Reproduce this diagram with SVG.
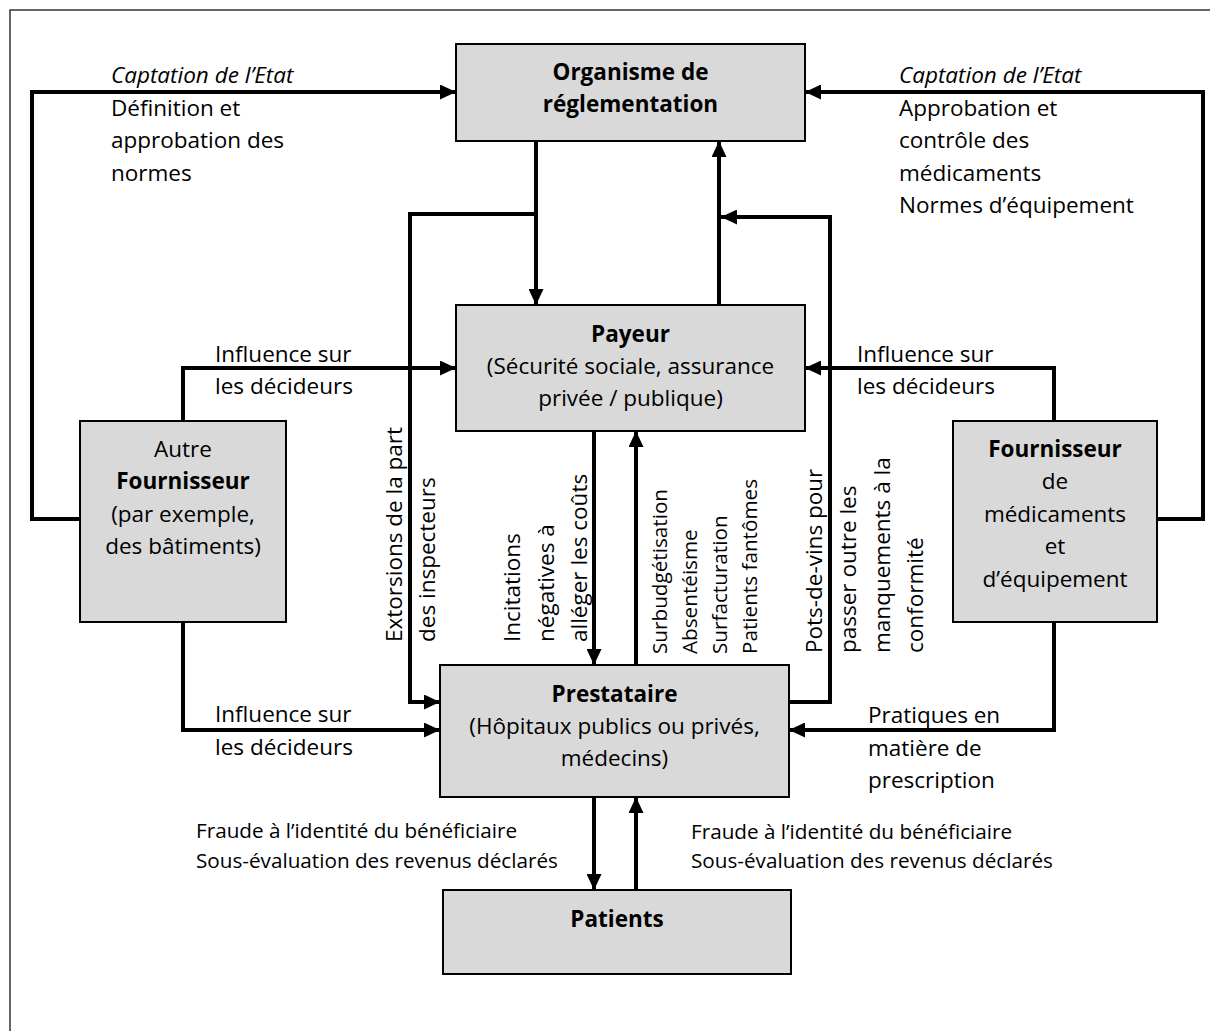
<svg xmlns="http://www.w3.org/2000/svg" width="1210" height="1031" viewBox="0 0 1210 1031">
<style>
.frame{fill:none;stroke:#333;stroke-width:1.5}
.box{fill:#d9d9d9;stroke:#000;stroke-width:2}
.c{fill:none;stroke:#000;stroke-width:4;stroke-linejoin:miter}
.t{font-family:"Open Sans","Noto Sans",sans-serif;font-size:22.5px;fill:#000}
.s{font-size:20.7px}
.b{font-weight:bold}
.m{text-anchor:middle}
.i{font-style:italic}
</style>
<defs>
<marker id="ah" markerUnits="userSpaceOnUse" markerWidth="16" markerHeight="15" refX="16" refY="7.5" orient="auto">
<path d="M0,0 L16,7.5 L0,15 z" fill="#000"/>
</marker>
</defs>
<rect width="1210" height="1031" fill="#fff"/>
<path class="frame" d="M10,1031 V10 H1210"/>

<g id="connectors">
<path class="c" d="M80,519 H32 V92 H456" marker-end="url(#ah)"/>
<path class="c" d="M1157,519 H1203 V92 H805" marker-end="url(#ah)"/>
<path class="c" d="M536,141 V305" marker-end="url(#ah)"/>
<path class="c" d="M536,214 H410 V702 H440" marker-end="url(#ah)"/>
<path class="c" d="M719,305 V141" marker-end="url(#ah)"/>
<path class="c" d="M789,702 H830 V217 H721" marker-end="url(#ah)"/>
<path class="c" d="M183,421 V368 H456" marker-end="url(#ah)"/>
<path class="c" d="M1054,421 V368 H805" marker-end="url(#ah)"/>
<path class="c" d="M183,622 V730 H440" marker-end="url(#ah)"/>
<path class="c" d="M1054,622 V730 H789" marker-end="url(#ah)"/>
<path class="c" d="M594,431 V665" marker-end="url(#ah)"/>
<path class="c" d="M636,665 V431" marker-end="url(#ah)"/>
<path class="c" d="M594,797 V890" marker-end="url(#ah)"/>
<path class="c" d="M636,890 V797" marker-end="url(#ah)"/>
</g>

<g id="regulateur">
<rect class="box" x="456" y="44" width="349" height="97"/>
<text class="t b m" x="630.5" y="80">Organisme de</text>
<text class="t b m" x="630.5" y="112">réglementation</text>
</g>
<g id="payeur">
<rect class="box" x="456" y="305" width="349" height="126"/>
<text class="t b m" x="630.5" y="342">Payeur</text>
<text class="t m" x="630.5" y="374">(Sécurité sociale, assurance</text>
<text class="t m" x="630.5" y="406">privée / publique)</text>
</g>
<g id="prestataire">
<rect class="box" x="440" y="665" width="349" height="132"/>
<text class="t b m" x="614.5" y="702">Prestataire</text>
<text class="t m" x="614.5" y="734">(Hôpitaux publics ou privés,</text>
<text class="t m" x="614.5" y="766">médecins)</text>
</g>
<g id="patients">
<rect class="box" x="443" y="890" width="348" height="84"/>
<text class="t b m" x="617" y="927">Patients</text>
</g>
<g id="autre-fournisseur">
<rect class="box" x="80" y="421" width="206" height="201"/>
<text class="t m" x="183" y="457">Autre</text>
<text class="t b m" x="183" y="489">Fournisseur</text>
<text class="t m" x="183" y="522">(par exemple,</text>
<text class="t m" x="183" y="554">des bâtiments)</text>
</g>
<g id="fournisseur-medicaments">
<rect class="box" x="953" y="421" width="204" height="201"/>
<text class="t b m" x="1055" y="457">Fournisseur</text>
<text class="t m" x="1055" y="489">de</text>
<text class="t m" x="1055" y="522">médicaments</text>
<text class="t m" x="1055" y="554">et</text>
<text class="t m" x="1055" y="587">d’équipement</text>
</g>

<g id="labels">
<text class="t i" x="111" y="83">Captation de l’Etat</text>
<text class="t" x="111" y="116">Définition et</text>
<text class="t" x="111" y="148">approbation des</text>
<text class="t" x="111" y="181">normes</text>

<text class="t i" x="899" y="83">Captation de l’Etat</text>
<text class="t" x="899" y="116">Approbation et</text>
<text class="t" x="899" y="148">contrôle des</text>
<text class="t" x="899" y="181">médicaments</text>
<text class="t" x="899" y="213">Normes d’équipement</text>

<text class="t" x="215" y="362">Influence sur</text>
<text class="t" x="215" y="394">les décideurs</text>
<text class="t" x="857" y="362">Influence sur</text>
<text class="t" x="857" y="394">les décideurs</text>

<text class="t" x="215" y="722">Influence sur</text>
<text class="t" x="215" y="755">les décideurs</text>

<text class="t" x="868" y="723">Pratiques en</text>
<text class="t" x="868" y="756">matière de</text>
<text class="t" x="868" y="788">prescription</text>

<text class="t s" x="196" y="838">Fraude à l’identité du bénéficiaire</text>
<text class="t s" x="196" y="868">Sous-évaluation des revenus déclarés</text>
<text class="t s" x="691" y="839">Fraude à l’identité du bénéficiaire</text>
<text class="t s" x="691" y="868">Sous-évaluation des revenus déclarés</text>

<text class="t" transform="translate(402,642) rotate(-90)"><tspan x="0" y="0">Extorsions de la part</tspan><tspan x="0" y="33">des inspecteurs</tspan></text>
<text class="t" transform="translate(520,642) rotate(-90)"><tspan x="0" y="0">Incitations</tspan><tspan x="0" y="33.5">négatives à</tspan><tspan x="0" y="67">alléger les coûts</tspan></text>
<text class="t s" transform="translate(667,654) rotate(-90)"><tspan x="0" y="0">Surbudgétisation</tspan><tspan x="0" y="30">Absentéisme</tspan><tspan x="0" y="60">Surfacturation</tspan><tspan x="0" y="90">Patients fantômes</tspan></text>
<text class="t" transform="translate(822,653) rotate(-90)"><tspan x="0" y="0">Pots-de-vins pour</tspan><tspan x="0" y="34">passer outre les</tspan><tspan x="0" y="68">manquements à la</tspan><tspan x="0" y="101">conformité</tspan></text>
</g>
</svg>
